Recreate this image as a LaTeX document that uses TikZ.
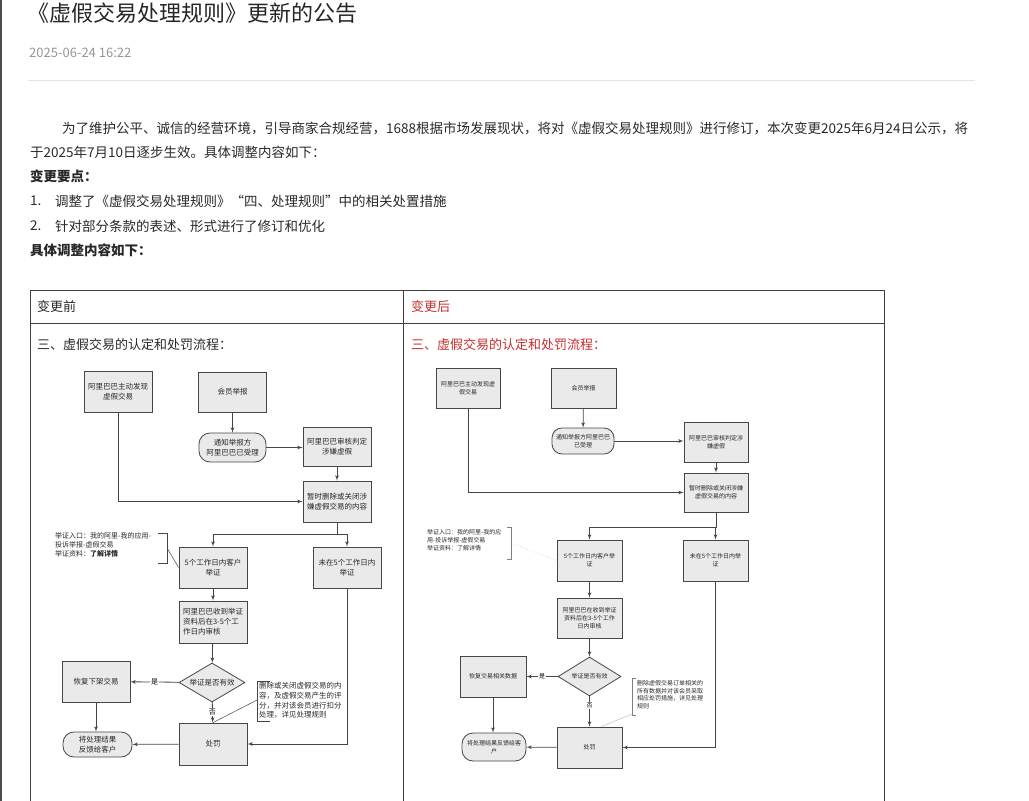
\documentclass[tikz,border=0pt]{standalone}
\usepackage{fontspec}
\setmainfont{Noto Sans CJK SC}
\usepackage{tikz}
\usetikzlibrary{arrows,shapes.geometric}
\definecolor{boxfill}{RGB}{234,234,234}
\definecolor{boxline}{RGB}{70,70,70}
\definecolor{newred}{RGB}{200,45,45}
\definecolor{datagray}{RGB}{150,150,150}
\definecolor{textgray}{RGB}{40,40,40}

\begin{document}
\begin{tikzpicture}[x=1pt,y=-1pt]
\tikzset{stepbox/.style = {shape=rectangle,draw=boxline,fill=boxfill,line width=0.8pt,inner sep=1pt,align=center,text=textgray}}
\tikzset{lbox/.style = {stepbox,minimum width=68pt,minimum height=41pt,font=\fontsize{7.5}{10}\selectfont}}
\tikzset{rbox/.style = {stepbox,minimum width=65pt,minimum height=40pt,font=\fontsize{6}{8}\selectfont}}
\tikzset{roundbox/.style = {rounded corners=11pt}}
\tikzset{decision/.style = {shape=diamond,aspect=1.7,inner sep=0pt}}
\tikzset{edge/.style = {->,> = latex',line width=0.8pt,draw=boxline}}
\tikzset{note/.style = {anchor=north west,inner sep=0pt,align=left,text=textgray}}
\tikzset{line/.style = {anchor=west,inner sep=0pt,text=textgray,font=\fontsize{13.5}{16}\selectfont}}
\useasboundingbox (0,0) rectangle (1029,801);
% page
\draw[line width=1.5pt,black!70] (1,0) -- (1,801);
\node[anchor=west,inner sep=0pt,text=black!85,font=\fontsize{22}{24}\selectfont] (title) at (27,13) {《虚假交易处理规则》更新的公告};
\node[anchor=west,inner sep=0pt,text=datagray,font=\fontsize{13}{15}\selectfont] (date) at (29,53) {2025-06-24 16:22};
\draw[black!10,line width=1pt] (28,80) -- (975,80);
\node[line] (p1) at (62,128) {为了维护公平、诚信的经营环境，引导商家合规经营，1688根据市场发展现状，将对《虚假交易处理规则》进行修订，本次变更2025年6月24日公示，将};
\node[line] (p2) at (30,152) {于2025年7月10日逐步生效。具体调整内容如下：};
\node[line,font=\fontsize{13.5}{16}\selectfont\bfseries] (p3) at (30,176) {变更要点：};
\node[line] (n1) at (30,201) {1.};
\node[line] (p4) at (55,201) {调整了《虚假交易处理规则》“四、处理规则”中的相关处置措施};
\node[line] (n2) at (30,226) {2.};
\node[line] (p5) at (55,226) {针对部分条款的表述、形式进行了修订和优化};
\node[line,font=\fontsize{13.5}{16}\selectfont\bfseries] (p6) at (30,250) {具体调整内容如下：};
% table
\draw[line width=1pt,black!75] (30,290) -- (884,290);
\draw[line width=1pt,black!75] (30,323) -- (884,323);
\draw[line width=1pt,black!75] (30,290) -- (30,801);
\draw[line width=1pt,black!75] (403,290) -- (403,801);
\draw[line width=1pt,black!75] (884,290) -- (884,801);
\node[line,font=\fontsize{13}{15}\selectfont] (before) at (37,307) {变更前};
\node[line,text=newred,font=\fontsize{13}{15}\selectfont] (after) at (411,307) {变更后};
\node[line,font=\fontsize{13}{15}\selectfont] (lhead) at (37,345) {三、虚假交易的认定和处罚流程：};
\node[line,text=newred,font=\fontsize{13}{15}\selectfont] (rhead) at (411,345) {三、虚假交易的认定和处罚流程：};
% vertices (before)
\node[lbox] (A) at (118,391.5) {阿里巴巴主动发现\\虚假交易};
\node[lbox,minimum height=40pt] (B) at (232.5,392) {会员举报};
\node[lbox,roundbox,minimum width=67pt,minimum height=29pt] (C) at (232.5,447.5) {通知举报方\\阿里巴巴已受理};
\node[lbox,minimum height=39pt] (D) at (337,446.5) {阿里巴巴审核判定\\涉嫌虚假};
\node[lbox] (E) at (337,501.5) {暂时删除或关闭涉\\嫌虚假交易的内容};
\coordinate (split) at (337,534);
\node[lbox] (F) at (213,567.5) {5个工作日内客户\\举证};
\node[lbox] (G) at (347,567.5) {未在5个工作日内\\举证};
\node[lbox,align=left,minimum height=42pt] (H) at (213,622) {阿里巴巴收到举证\\资料后在3-5个工\\作日内审核};
\node[lbox,decision,minimum width=66pt,minimum height=39pt] (I) at (212,682.5) {举证是否有效};
\node[lbox] (J) at (96,681.5) {恢复下架交易};
\node[lbox,minimum height=42pt] (K) at (213,744) {处罚};
\node[lbox,roundbox,minimum width=69pt,minimum height=25pt] (L) at (97.5,744.5) {将处理结果\\反馈给客户};
\node[note,font=\fontsize{7}{9}\selectfont] (noteA) at (55,532) {举证入口：我的阿里-我的应用-\\投诉举报-虚假交易\\举证资料：\textbf{了解详情}};
\node[note,font=\fontsize{7.5}{9.8}\selectfont] (noteB) at (259,682) {删除或关闭虚假交易的内\\容，及虚假交易产生的评\\分，并对该会员进行扣分\\处理，详见处理规则};
\coordinate (brA) at (167,548);
\coordinate (brB) at (257,700);
% edges (before)
\draw[edge] (A) |- (E);
\draw[edge] (B) -- (C);
\draw[edge] (C) -- (C -| D.west);
\draw[edge] (D) -- (E);
\draw[edge,-] (E) -- (split);
\draw[edge] (split) -| (F);
\draw[edge] (split) -| (G);
\draw[edge] (F) -- (H);
\draw[edge] (H) -- (I);
\draw[edge] (I) -- node[fill=white,inner sep=1pt,font=\fontsize{7}{8}\selectfont]{是} (J);
\draw[edge] (I) -- node[fill=white,inner sep=1pt,font=\fontsize{7}{8}\selectfont]{否} (K);
\draw[edge] (J.south) -- (J.south |- L.north);
\draw[edge] (K) -- (L);
\draw[edge] (G) |- (K);
\draw[boxline,line width=0.7pt] (158,533) -- (167,533) -- (167,563) -- (158,563);
\draw[boxline,line width=0.5pt] (brA) -- (F.west);
\draw[boxline,line width=0.7pt] (270,681) -- (257,681) -- (257,721) -- (270,721);
\draw[boxline,line width=0.5pt] (brB) -- (K.north);
% vertices (after)
\node[rbox,minimum width=64pt] (A2) at (468,388) {阿里巴巴主动发现虚\\假交易};
\node[rbox] (B2) at (583.5,388) {会员举报};
\node[rbox,roundbox,minimum width=62pt,minimum height=26pt,rounded corners=10pt] (C2) at (583,441) {通知举报方阿里巴巴\\已受理};
\node[rbox,minimum width=64pt] (D2) at (716,442) {阿里巴巴审核判定涉\\嫌虚假};
\node[rbox,minimum width=64pt,minimum height=39pt] (E2) at (716,492.5) {暂时删除或关闭涉嫌\\虚假交易的内容};
\coordinate (split2) at (716,527);
\node[rbox,minimum height=41pt] (F2) at (589.5,560.5) {5个工作日内客户举\\证};
\node[rbox,minimum height=41pt] (G2) at (715.5,560.5) {未在5个工作日内举\\证};
\node[rbox] (H2) at (589.5,618) {阿里巴巴在收到举证\\资料后在3-5个工作\\日内审核};
\node[rbox,decision,minimum width=63pt,minimum height=39pt] (I2) at (589.5,676.5) {举证是否有效};
\node[rbox,minimum width=66pt,minimum height=41pt] (J2) at (493,676.5) {恢复交易相关数据};
\node[rbox,minimum height=41pt] (K2) at (589.5,747.5) {处罚};
\node[rbox,roundbox,minimum width=64pt,minimum height=28pt] (L2) at (494,747) {将处理结果反馈给客\\户};
\node[note,font=\fontsize{6}{8}\selectfont] (noteA2) at (427,529) {举证入口：我的阿里-我的应\\用-投诉举报-虚假交易\\举证资料：了解详情};
\node[note,font=\fontsize{6}{7.8}\selectfont] (noteB2) at (637,680) {删除虚假交易订单相关的\\所有数据并对该会员采取\\相应处罚措施，详见处理\\规则};
\coordinate (brA2) at (511,543);
\coordinate (brB2) at (632,714);
% edges (after)
\draw[edge] (A2) |- (E2);
\draw[edge] (B2) -- (C2);
\draw[edge] (C2) -- (C2 -| D2.west);
\draw[edge] (D2) -- (E2);
\draw[edge,-] (E2) -- (split2);
\draw[edge] (split2) -| (F2);
\draw[edge] (split2) -| (G2);
\draw[edge] (F2) -- (H2);
\draw[edge] (H2) -- (I2);
\draw[edge] (I2) -- node[fill=white,inner sep=1pt,font=\fontsize{6}{7}\selectfont]{是} (J2);
\draw[edge] (I2) -- node[pos=0.3,fill=white,inner sep=1pt,font=\fontsize{6}{7}\selectfont]{否} (K2);
\draw[edge] (J2.south) -- (J2.south |- L2.north);
\draw[edge] (K2) -- (L2);
\draw[edge] (G2) |- (K2);
\draw[gray,line width=0.5pt] (507,527) -- (511,527) -- (511,559) -- (507,559);
\draw[gray!70,line width=0.5pt,dotted] (brA2) -- (F2.west);
\draw[gray,line width=0.5pt] (636,678) -- (632,678) -- (632,715) -- (636,715);
\draw[gray!60,line width=0.4pt] (brB2) -- (K2.60);
\end{tikzpicture}
\end{document}
